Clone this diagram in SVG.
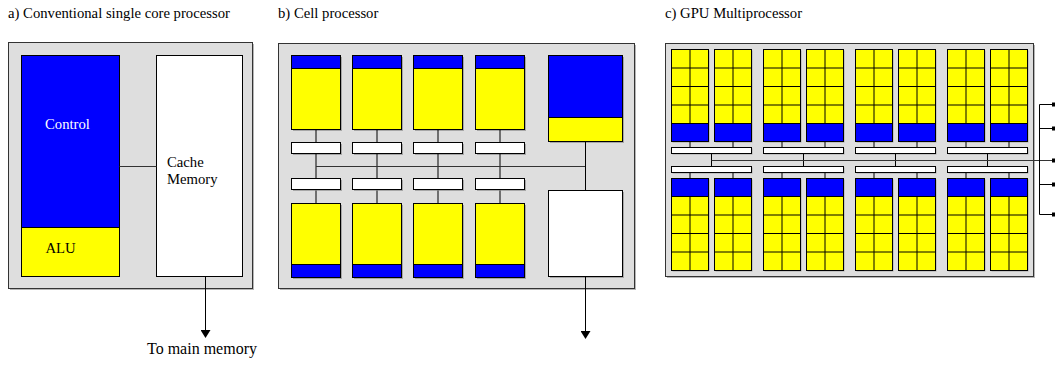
<svg xmlns="http://www.w3.org/2000/svg" xmlns:xlink="http://www.w3.org/1999/xlink" width="1055" height="365" viewBox="0 0 1055 365">
<style>
text{font-family:"Liberation Serif","Times New Roman",serif;font-size:14.7px;fill:#000}
.title{font-size:14.7px}
.panel{fill:#dedede;stroke:#333;stroke-width:1}
.blue{fill:#0000ff;stroke:#000;stroke-width:1}
.yel{fill:#ffff00;stroke:#000;stroke-width:1}
.wht{fill:#ffffff;stroke:#000;stroke-width:1}
.sh{fill:#7a7a7a;opacity:0.55}
.ln{stroke:#000;stroke-width:1;fill:none}
.bus{stroke:#333;stroke-width:1.2;fill:none}
.grid{stroke:#000;stroke-width:1;fill:none}
</style>
<defs>
<marker id="arr" markerWidth="8" markerHeight="10" refX="7" refY="5" orient="auto" markerUnits="userSpaceOnUse">
<path d="M0,0 L8,5 L0,10 Z" fill="#000"/>
</marker>
<g id="smUp">
<rect class="sh" x="1" y="1" width="37" height="92"/>
<rect class="yel" x="0" y="0" width="37" height="74"/>
<path class="grid" d="M0,18.5H37M0,37H37M0,55.5H37M18.5,0V74"/>
<rect class="blue" x="0" y="74" width="37" height="18"/>
</g>
<g id="smDn">
<rect class="sh" x="1" y="1" width="37" height="92"/>
<rect class="blue" x="0" y="0" width="37" height="18"/>
<rect class="yel" x="0" y="18" width="37" height="74"/>
<path class="grid" d="M0,36.5H37M0,55H37M0,73.5H37M18.5,18V92"/>
</g>
<g id="speTop">
<rect class="sh" x="1.5" y="1.5" width="49" height="74"/>
<rect class="blue" x="0" y="0" width="49" height="13"/>
<rect class="yel" x="0" y="13" width="49" height="61"/>
</g>
<g id="speBot">
<rect class="sh" x="1.5" y="1.5" width="49" height="74"/>
<rect class="yel" x="0" y="0" width="49" height="61"/>
<rect class="blue" x="0" y="61" width="49" height="13"/>
</g>
<g id="lsBox">
<rect class="sh" x="1.5" y="1.5" width="49" height="11"/>
<rect class="wht" x="0" y="0" width="49" height="11"/>
</g>
<g id="sbar">
<rect class="sh" x="1" y="1" width="80" height="6"/>
<rect class="wht" x="0" y="0" width="80" height="6"/>
</g>
</defs>

<!-- Titles -->
<text class="title" x="8" y="17.5">a) Conventional single core processor</text>
<text class="title" x="278" y="17.5">b) Cell processor</text>
<text class="title" x="665" y="17.5">c) GPU Multiprocessor</text>

<!-- Panel a -->
<g id="panelA">
<rect class="sh" x="10" y="44" width="244" height="246"/>
<rect class="panel" x="8.5" y="42.5" width="244" height="246"/>
</g>
<g id="a-control">
<rect class="blue" x="21.5" y="55.5" width="98" height="172"/>
<text x="45" y="129" style="fill:#fff">Control</text>
</g>
<g id="a-alu">
<rect class="yel" x="21.5" y="227.5" width="98" height="49"/>
<text x="45.5" y="253">ALU</text>
</g>
<g id="a-cache">
<rect class="wht" x="156.5" y="55.5" width="86" height="221"/>
<text x="167" y="167">Cache</text>
<text x="167" y="183.5">Memory</text>
</g>
<text id="a-mainmem" x="147" y="354" style="font-size:16px">To main memory</text>

<!-- Panel b -->
<g id="panelB">
<rect class="sh" x="280" y="45" width="356" height="245"/>
<rect class="panel" x="278.5" y="43.5" width="356" height="245"/>
</g>
<g id="b-spe-top">
<use xlink:href="#speTop" x="291.5" y="55.5"/>
<use xlink:href="#speTop" x="352.5" y="55.5"/>
<use xlink:href="#speTop" x="413.5" y="55.5"/>
<use xlink:href="#speTop" x="475.5" y="55.5"/>
</g>
<g id="b-ls-top">
<use xlink:href="#lsBox" x="291.5" y="142.5"/>
<use xlink:href="#lsBox" x="352.5" y="142.5"/>
<use xlink:href="#lsBox" x="413.5" y="142.5"/>
<use xlink:href="#lsBox" x="475.5" y="142.5"/>
</g>
<g id="b-ls-bot">
<use xlink:href="#lsBox" x="291.5" y="178.5"/>
<use xlink:href="#lsBox" x="352.5" y="178.5"/>
<use xlink:href="#lsBox" x="413.5" y="178.5"/>
<use xlink:href="#lsBox" x="475.5" y="178.5"/>
</g>
<g id="b-spe-bot">
<use xlink:href="#speBot" x="291.5" y="203.5"/>
<use xlink:href="#speBot" x="352.5" y="203.5"/>
<use xlink:href="#speBot" x="413.5" y="203.5"/>
<use xlink:href="#speBot" x="475.5" y="203.5"/>
</g>
<g id="b-ppe">
<rect class="sh" x="550" y="57" width="74" height="86"/>
<rect class="blue" x="548.5" y="55.5" width="74" height="62"/>
<rect class="yel" x="548.5" y="117.5" width="74" height="24"/>
</g>
<g id="b-l2">
<rect class="sh" x="550" y="192" width="74" height="86"/>
<rect class="wht" x="548.5" y="190.5" width="74" height="86"/>
</g>

<!-- Panel c -->
<g id="panelC">
<rect class="sh" x="667" y="45" width="368" height="233"/>
<rect class="panel" x="665.5" y="43.5" width="368" height="233"/>
</g>
<g id="c-sm-top">
<use xlink:href="#smUp" x="671.5" y="49.5"/>
<use xlink:href="#smUp" x="714.5" y="49.5"/>
<use xlink:href="#smUp" x="763.5" y="49.5"/>
<use xlink:href="#smUp" x="806.5" y="49.5"/>
<use xlink:href="#smUp" x="855.5" y="49.5"/>
<use xlink:href="#smUp" x="898.5" y="49.5"/>
<use xlink:href="#smUp" x="947.5" y="49.5"/>
<use xlink:href="#smUp" x="990.5" y="49.5"/>
</g>
<g id="c-sm-bot">
<use xlink:href="#smDn" x="671.5" y="178.5"/>
<use xlink:href="#smDn" x="714.5" y="178.5"/>
<use xlink:href="#smDn" x="763.5" y="178.5"/>
<use xlink:href="#smDn" x="806.5" y="178.5"/>
<use xlink:href="#smDn" x="855.5" y="178.5"/>
<use xlink:href="#smDn" x="898.5" y="178.5"/>
<use xlink:href="#smDn" x="947.5" y="178.5"/>
<use xlink:href="#smDn" x="990.5" y="178.5"/>
</g>
<g id="c-bars">
<use xlink:href="#sbar" x="671.5" y="147.5"/>
<use xlink:href="#sbar" x="763.5" y="147.5"/>
<use xlink:href="#sbar" x="855.5" y="147.5"/>
<use xlink:href="#sbar" x="947.5" y="147.5"/>
<use xlink:href="#sbar" x="671.5" y="166.5"/>
<use xlink:href="#sbar" x="763.5" y="166.5"/>
<use xlink:href="#sbar" x="855.5" y="166.5"/>
<use xlink:href="#sbar" x="947.5" y="166.5"/>
</g>

<!-- Connectors -->
<g id="connectors">
<!-- panel a -->
<path class="bus" d="M119.5,166.5H156.5"/>
<path class="ln" d="M205.5,276.5V337" marker-end="url(#arr)"/>
<!-- panel b -->
<path class="ln" d="M316,129.5V142.5M316,153.5V178.5M316,190.5V203.5"/>
<path class="ln" d="M377,129.5V142.5M377,153.5V178.5M377,190.5V203.5"/>
<path class="ln" d="M438,129.5V142.5M438,153.5V178.5M438,190.5V203.5"/>
<path class="ln" d="M500,129.5V142.5M500,153.5V178.5M500,190.5V203.5"/>
<path class="bus" d="M316,166.5H585.5"/>
<path class="ln" d="M585.5,141.5V190.5"/>
<path class="ln" d="M585.5,276.5V338" marker-end="url(#arr)"/>
<!-- panel c ticks -->
<path class="ln" d="M690,141.5V147.5M733,141.5V147.5M782,141.5V147.5M825,141.5V147.5M874,141.5V147.5M917,141.5V147.5M966,141.5V147.5M1009,141.5V147.5"/>
<path class="ln" d="M690,172.5V178.5M733,172.5V178.5M782,172.5V178.5M825,172.5V178.5M874,172.5V178.5M917,172.5V178.5M966,172.5V178.5M1009,172.5V178.5"/>
<path class="ln" d="M711.5,153.5V166.5M803.5,153.5V166.5M895.5,153.5V166.5M987.5,153.5V166.5"/>
<path class="bus" d="M711.5,160.5H1055"/>
<path class="ln" d="M1039.5,104.5V214.5M1039.5,104.5H1055M1039.5,128.5H1055M1039.5,184.5H1055M1039.5,214.5H1055"/>
<path d="M1052,102.5h3v4h-3zM1052,126.5h3v4h-3zM1052,158.5h3v4h-3zM1052,182.5h3v4h-3zM1052,212.5h3v4h-3z" fill="#000"/>
</g>
</svg>
